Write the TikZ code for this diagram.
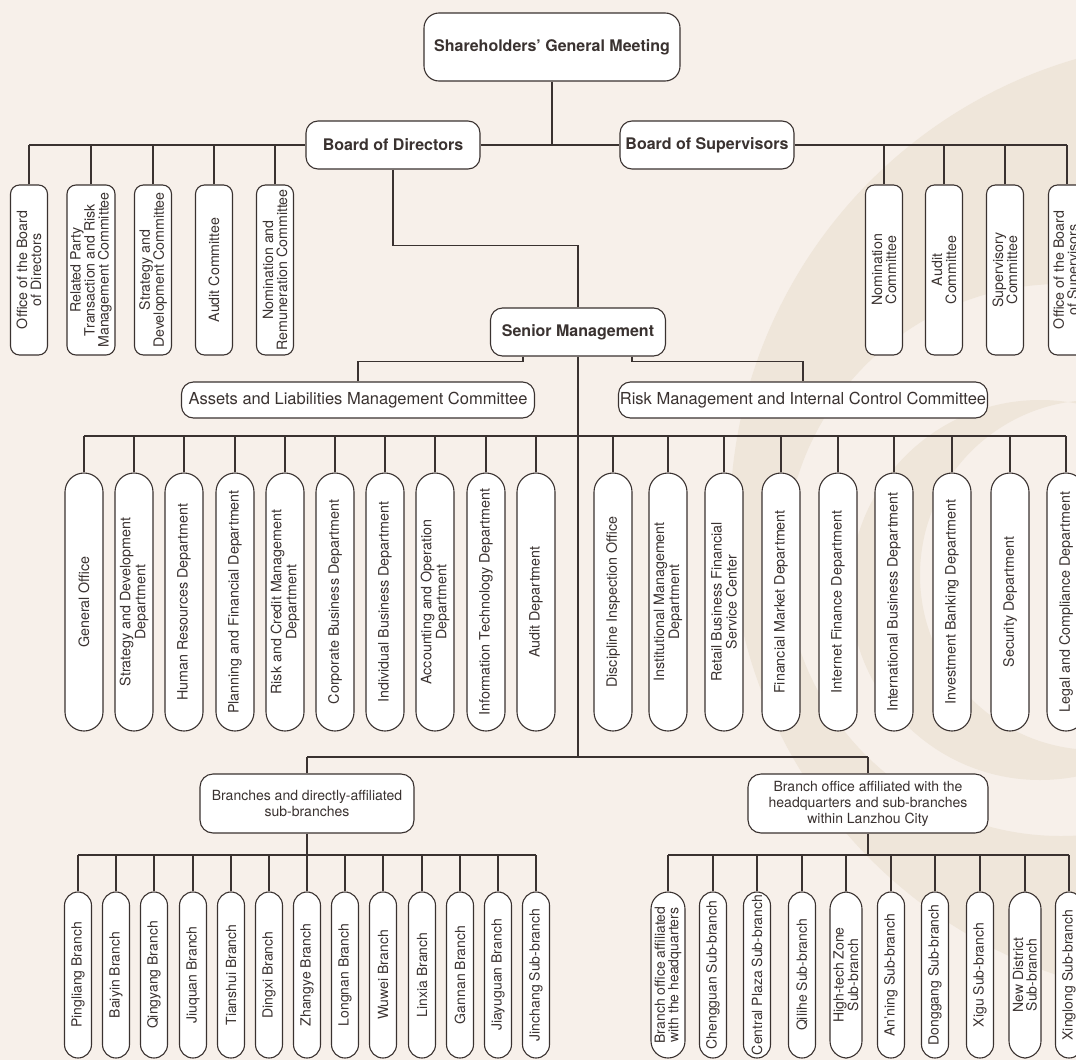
\documentclass[tikz,border=0pt]{standalone}
\usepackage{fontspec}
\setmainfont{TeX Gyre Heros}
\definecolor{paper}{HTML}{F7F0EA}
\definecolor{swirl}{HTML}{EFE6DA}
\definecolor{ink}{HTML}{3A3230}

\begin{document}
\begin{tikzpicture}[x=1pt,y=-1pt,
    link/.style={draw=ink,line width=1.1pt},
    head/.style={draw=ink,line width=1.1pt,fill=white,text=ink,rounded corners=12pt,
        inner sep=0pt,minimum height=48pt,font=\fontsize{16}{18}\selectfont\bfseries},
    grp/.style={draw=ink,line width=1.1pt,fill=white,text=ink,rounded corners=12pt,
        inner sep=0pt,minimum height=36pt,font=\fontsize{16.5}{18}\selectfont},
    brgrp/.style={draw=ink,line width=1.1pt,fill=white,text=ink,rounded corners=13pt,
        inner sep=0pt,minimum height=59pt,align=center,font=\fontsize{14}{16}\selectfont},
    cmt/.style={draw=ink,line width=1.1pt,fill=white,text=ink,rounded corners=9pt,rotate=90,
        inner sep=0pt,minimum width=170pt,minimum height=37pt,align=center,
        font=\fontsize{14.2}{14}\selectfont},
    dept/.style={draw=ink,line width=1.1pt,fill=white,text=ink,rounded corners=19pt,rotate=90,
        inner sep=0pt,minimum width=258pt,minimum height=38pt,align=center,
        font=\fontsize{14.3}{15}\selectfont},
    brn/.style={draw=ink,line width=1.1pt,fill=white,text=ink,rounded corners=13.5pt,rotate=90,
        inner sep=0pt,minimum width=166pt,minimum height=27pt,align=center,
        font=\fontsize{14}{13.5}\selectfont},
    wide/.style={minimum height=34pt,rounded corners=17pt}]
  \useasboundingbox (0,0) rectangle (1076,1060);
  % background
  \fill[paper] (0,0) rectangle (1076,1060);
  \begin{scope}
    \clip (0,0) rectangle (1076,1060);
    \fill[swirl,even odd rule] (1210,520) circle (480pt) (1061,560) circle (276pt);
    \fill[swirl,even odd rule] (1040,590) circle (190pt) (1095,575) circle (175pt);
  \end{scope}

  % top of the tree
  \node[head,minimum width=256pt,minimum height=68pt,rounded corners=15pt] (sgm) at (552,47)
      {Shareholders’ General Meeting};
  \node[head,minimum width=174pt] (bod) at (393,145) {Board of Directors};
  \node[head,minimum width=174pt] (bos) at (707,145) {Board of Supervisors};
  \node[head,minimum width=175pt] (sm) at (578,332) {Senior Management};
  \node[grp,minimum width=353pt] (almc) at (358,400) {Assets and Liabilities Management Committee};
  \node[grp,minimum width=369pt] (rmc) at (803,400) {Risk Management and Internal Control Committee};

  % committees
  \foreach \n/\x/\w/\t in {lc1/29/37/{Office of the Board\\of Directors},
      lc2/91/48/{Related Party\\Transaction and Risk\\Management Committee},
      lc3/153/37/{Strategy and\\Development Committee},
      lc4/214/37/{Audit Committee},
      lc5/275/37/{Nomination and\\Remuneration Committee},
      rc1/884/37/{Nomination\\Committee},
      rc2/944/37/{Audit\\Committee},
      rc3/1005/37/{Supervisory\\Committee},
      rc4/1067/37/{Office of the Board\\of Supervisors}}
    \node[cmt,minimum height=\w pt] (\n) at (\x,270) {\t};

  % departments
  \foreach \n/\x/\t in {d1/84/{General Office},
      d2/134/{Strategy and Development\\Department},
      d3/184/{Human Resources Department},
      d4/235/{Planning and Financial Department},
      d5/285/{Risk and Credit Management\\Department},
      d6/335/{Corporate Business Department},
      d7/385/{Individual Business Department},
      d8/435/{Accounting and Operation\\Department},
      d9/486/{Information Technology Department},
      d10/536/{Audit Department},
      d11/613/{Discipline Inspection Office},
      d12/668/{Institutional Management\\Department},
      d13/724/{Retail Business Financial\\Service Center},
      d14/781/{Financial Market Department},
      d15/838/{Internet Finance Department},
      d16/894/{International Business Department},
      d17/952/{Investment Banking Department},
      d18/1010/{Security Department},
      d19/1066/{Legal and Compliance Department}}
    \node[dept] (\n) at (\x,602) {\t};

  % branches
  \node[brgrp,minimum width=214pt] (bra) at (307,803.5)
      {Branches and directly-affiliated\\sub-branches};
  \node[brgrp,minimum width=240pt] (lzb) at (868,803.5)
      {Branch office affiliated with the\\headquarters and sub-branches\\within Lanzhou City};
  \foreach \n/\x/\t in {b1/78/Pingliang Branch, b2/116/Baiyin Branch, b3/154/Qingyang Branch,
      b4/193/Jiuquan Branch, b5/231/Tianshui Branch, b6/269/Dingxi Branch,
      b7/307/Zhangye Branch, b8/345/Longnan Branch, b9/383/Wuwei Branch,
      b10/422/Linxia Branch, b11/460/Gannan Branch, b12/498/Jiayuguan Branch,
      b13/536/Jinchang Sub-branch}
    \node[brn] (\n) at (\x,975) {\t};
  \node[brn,wide] (s1) at (668,975) {Branch office affiliated\\with the headquarters};
  \foreach \n/\x/\t in {s2/713/Chengguan Sub-branch, s3/757/Central Plaza Sub-branch,
      s4/802/Qilihe Sub-branch, s6/891/An’ning Sub-branch, s7/935/Donggang Sub-branch,
      s8/980/Xigu Sub-branch, s10/1069/Xinglong Sub-branch}
    \node[brn] (\n) at (\x,975) {\t};
  \node[brn,wide,minimum height=32pt] (s5) at (846,975) {High-tech Zone\\Sub-branch};
  \node[brn,wide,minimum height=32pt] (s9) at (1025,975) {New District\\Sub-branch};

  % connectors
  \coordinate (dbus) at (578,436);
  \coordinate (bhub) at (578,757);
  \coordinate (bbus) at (578,855);
  \draw[link] (sgm.south) -- (sgm.south |- bod.east);
  \draw[link] (lc1.east |- bod.west) -- (bod.west);
  \draw[link] (bod.east) -- (bos.west);
  \draw[link] (bos.east) -- (rc4.east |- bos.east);
  \foreach \n in {lc1,lc2,lc3,lc4,lc5,rc1,rc2,rc3,rc4}
    \draw[link] (\n.east) -- (\n.east |- bod.west);
  \draw[link] (bod.south) -- ++(0,76) -| (sm.north);
  \draw[link] ([xshift=-55pt]sm.south) -- ++(0,5) -| (almc.north);
  \draw[link] ([xshift=54pt]sm.south) -- ++(0,5) -| (rmc.north);
  \draw[link] (sm.south) -- (bhub);
  \draw[link] (d1.east |- dbus) -- (d19.east |- dbus);
  \foreach \n in {d1,d2,d3,d4,d5,d6,d7,d8,d9,d10,d11,d12,d13,d14,d15,d16,d17,d18,d19}
    \draw[link] (\n.east) -- (\n.east |- dbus);
  \draw[link] (bra.north |- bhub) -- (lzb.north |- bhub);
  \draw[link] (bra.north) -- (bra.north |- bhub);
  \draw[link] (lzb.north) -- (lzb.north |- bhub);
  \draw[link] (bra.south) -- (bra.south |- bbus);
  \draw[link] (lzb.south) -- (lzb.south |- bbus);
  \draw[link] (b1.east |- bbus) -- (b13.east |- bbus);
  \draw[link] (s1.east |- bbus) -- (s10.east |- bbus);
  \foreach \n in {b1,b2,b3,b4,b5,b6,b7,b8,b9,b10,b11,b12,b13,s1,s2,s3,s4,s5,s6,s7,s8,s9,s10}
    \draw[link] (\n.east) -- (\n.east |- bbus);
\end{tikzpicture}
\end{document}
